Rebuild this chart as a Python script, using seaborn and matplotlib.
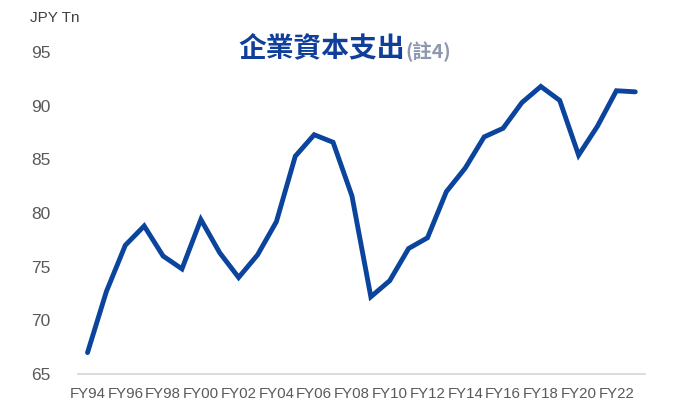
import matplotlib
matplotlib.use("Agg")
import matplotlib.pyplot as plt
import seaborn as sns
import pandas as pd

# Corporate capital expenditure, JPY trillion, FY1994-FY2023
fiscal_years = [f"FY{y % 100:02d}" for y in range(1994, 2024)]
capex = [67.0, 72.7, 77.0, 78.8, 76.0, 74.8, 79.4, 76.3, 74.0, 76.1,
         79.2, 85.3, 87.3, 86.6, 81.6, 72.2, 73.7, 76.7, 77.7, 82.0,
         84.2, 87.1, 87.9, 90.3, 91.8, 90.5, 85.4, 88.1, 91.4, 91.3]
y_ticks = [65, 70, 75, 80, 85, 90, 95]

title_main = "企業資本支出"
title_note = "(註4)"
unit_label = "JPY Tn"

LINE_BLUE = "#0B449C"
TITLE_BLUE = "#0F3F9A"
NOTE_GRAY = "#8D97AE"
TICK_GRAY = "#595959"

sns.set_theme(style="white")
plt.rcParams["font.family"] = ["Liberation Sans", "DejaVu Sans"]

df = pd.DataFrame({"year": fiscal_years, "capex": capex})

fig = plt.figure(figsize=(6.91, 4.17), dpi=100)
ax = fig.add_axes([0.113, 0.103, 0.82, 0.772])

sns.lineplot(data=df, x="year", y="capex", ax=ax, color=LINE_BLUE,
             linewidth=3.5, sort=False, solid_joinstyle="miter")

ax.set_xlim(-0.5, len(fiscal_years) - 0.5)
ax.set_ylim(y_ticks[0], y_ticks[-1])
ax.set_yticks(y_ticks)
ax.set_xticks(range(0, len(fiscal_years), 2))
ax.set_xticklabels(fiscal_years[::2])
ax.set_xlabel("")
ax.set_ylabel("")

for side in ["top", "right", "left"]:
    ax.spines[side].set_visible(False)
ax.spines["bottom"].set_color("#D9D9D9")
ax.spines["bottom"].set_linewidth(1.3)
ax.tick_params(axis="both", length=0, colors=TICK_GRAY)
ax.tick_params(axis="y", pad=20, labelsize=12.5)
ax.tick_params(axis="x", pad=9, labelsize=10.8)
ax.grid(False)

fig.text(0.043, 0.958, unit_label, fontsize=11, color="#404040",
         va="center", ha="left")

# Two-part title: bold blue heading followed by a smaller grey note marker
cjk = ["Noto Sans CJK TC", "DejaVu Sans"]
t1 = fig.text(0.345, 0.885, title_main, fontsize=20, fontweight="bold",
              color=TITLE_BLUE, va="center", ha="left", family=cjk)
fig.canvas.draw()
bb = t1.get_window_extent(renderer=fig.canvas.get_renderer())
x_note = bb.x1 / fig.bbox.width
fig.text(x_note, 0.876, title_note, fontsize=14, fontweight="bold",
         color=NOTE_GRAY, va="center", ha="left", family=cjk)

fig.savefig("out.png", dpi=100)
